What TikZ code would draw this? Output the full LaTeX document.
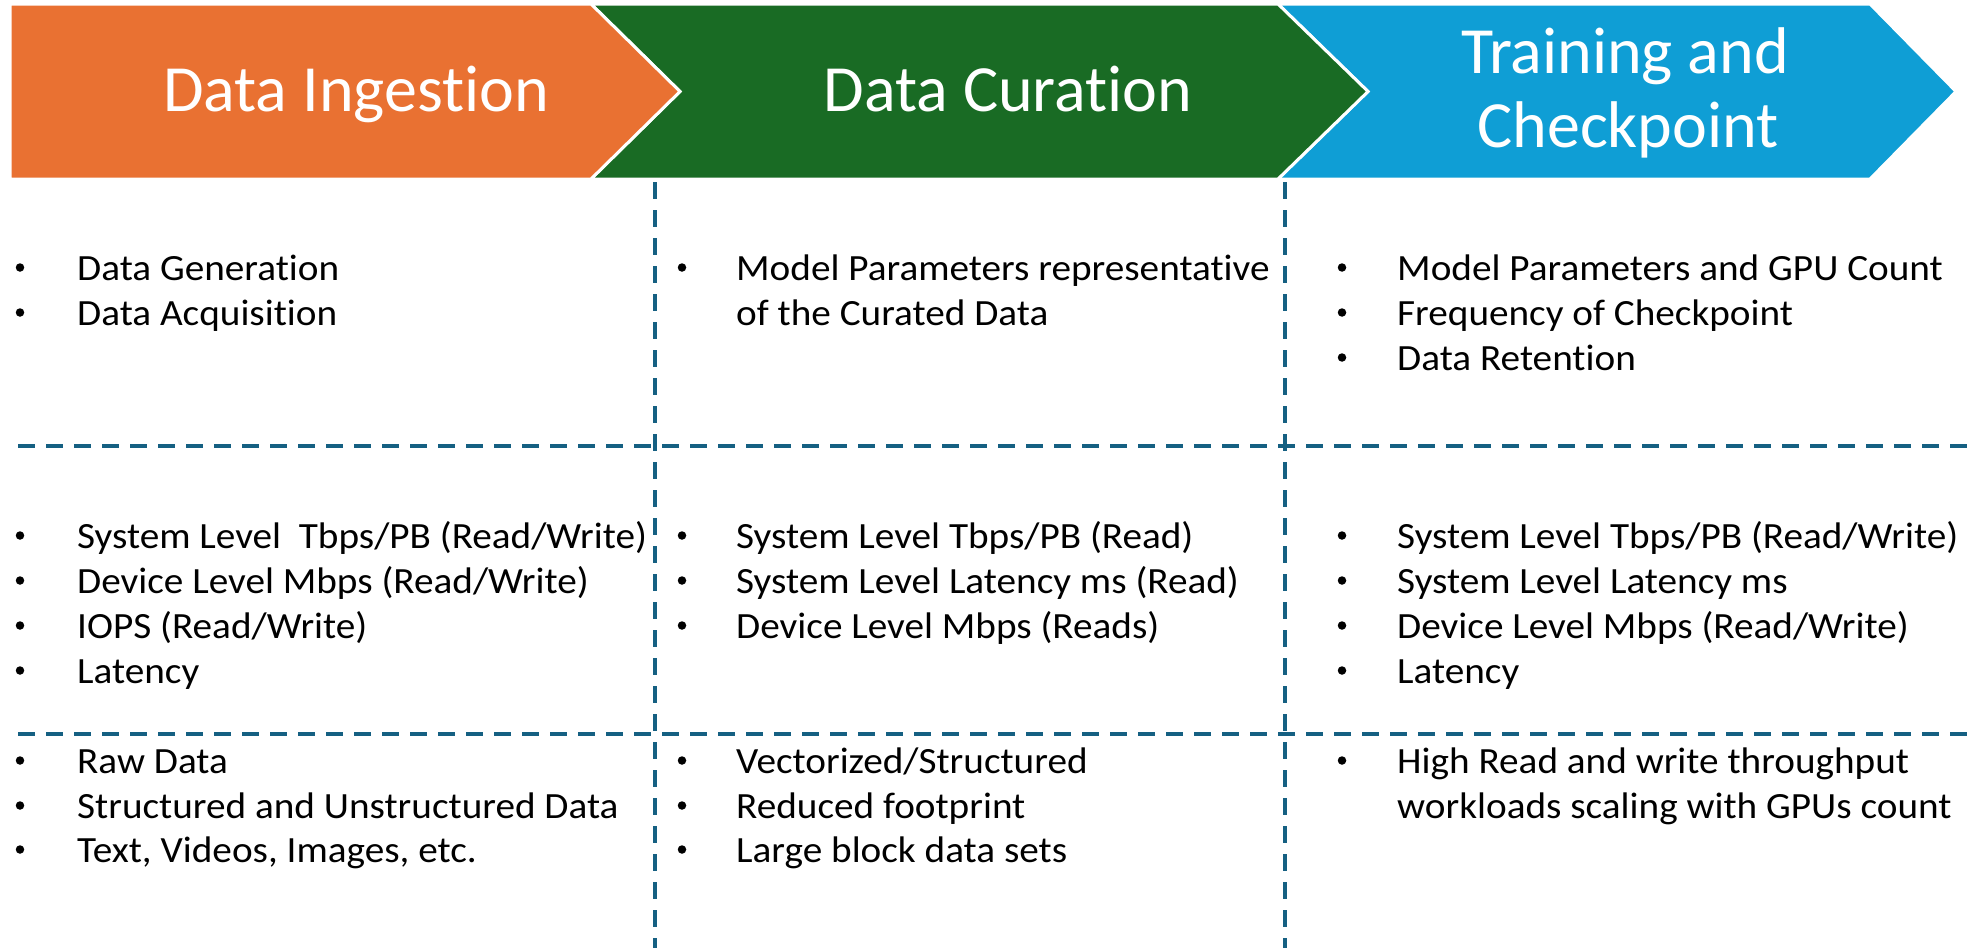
\documentclass[tikz,border=0pt]{standalone}
\usepackage{fontspec}
\setmainfont{Carlito}[Ligatures=NoCommon, FakeStretch=1.06]
\newfontfamily\headfam{Carlito}[Ligatures=NoCommon]
\definecolor{ingest}{HTML}{E97132}
\definecolor{curate}{HTML}{196B24}
\definecolor{train}{HTML}{0F9ED5}
\definecolor{gridblue}{HTML}{156082}
\newcommand\bodyfont{\fontsize{37}{45}\selectfont}
\newcommand\headfont{\headfam\fontsize{66}{78}\selectfont}
% one bullet line: name, bullet x, text x, baseline y, text
\newcommand\entry[5]{%
  \node[bul] (#1-dot) at (#2,#4-12.5) {};
  \node[txt] (#1) at (#3,#4) {#5};}
% continuation line without bullet
\newcommand\contline[4]{\node[txt] (#1) at (#2,#3) {#4};}

\begin{document}
\begin{tikzpicture}[x=1pt,y=-1pt,
  chevron/.style={draw=white, line width=3pt, line join=miter},
  headtxt/.style={text=white, font=\headfont, anchor=base, inner sep=0pt},
  bul/.style={circle, fill=black, inner sep=0pt, minimum size=8.5pt},
  txt/.style={font=\bodyfont, anchor=base west, inner sep=0pt},
  gridline/.style={draw=gridblue, line width=3.5pt, dash pattern=on 17pt off 11pt}]
\useasboundingbox (0,0) rectangle (1972,948);
\fill[white] (0,0) rectangle (1972,948);

% process chevrons
\path[chevron, fill=train]  (1278,4) -- (1870,4) -- (1956,91.5) -- (1870,179) -- (1278,179) -- (1368,91.5) -- cycle;
\path[chevron, fill=curate] (591,4) -- (1278,4) -- (1368,91.5) -- (1278,179) -- (591,179) -- (680,91.5) -- cycle;
\path[chevron, fill=ingest] (10,4) -- (591,4) -- (680,91.5) -- (591,179) -- (10,179) -- cycle;

\node[headtxt] (hIngest) at (356,111) {Data Ingestion};
\node[headtxt] (hCurate) at (1008,111) {Data Curation};
\node[headtxt] (hTrain1) at (1625,73) {Training and};
\node[headtxt] (hTrain2) at (1628,147) {Checkpoint};

% dashed grid
\draw[gridline] (655,182) -- (655,948);
\draw[gridline] (1285,182) -- (1285,948);
\draw[gridline] (18,446) -- (1972,446);
\draw[gridline] (18,734) -- (1972,734);

% column 1: data ingestion
\entry{a1}{20}{77}{280}{Data Generation}
\entry{a2}{20}{77}{325}{Data Acquisition}
\entry{b1}{20}{77}{548}{System Level\ \ Tbps/PB (Read/Write)}
\entry{b2}{20}{77}{593}{Device Level Mbps (Read/Write)}
\entry{b3}{20}{77}{638}{IOPS (Read/Write)}
\entry{b4}{20}{77}{683}{Latency}
\entry{c1}{20}{77}{773}{Raw Data}
\entry{c2}{20}{77}{818}{Structured and Unstructured Data}
\entry{c3}{20}{77}{862}{Text, Videos, Images, etc.}

% column 2: data curation
\entry{d1}{682}{736}{280}{Model Parameters representative}
\contline{d2}{736}{325}{of the Curated Data}
\entry{e1}{682}{736}{548}{System Level Tbps/PB (Read)}
\entry{e2}{682}{736}{593}{System Level Latency ms (Read)}
\entry{e3}{682}{736}{638}{Device Level Mbps (Reads)}
\entry{f1}{682}{736}{773}{Vectorized/Structured}
\entry{f2}{682}{736}{818}{Reduced footprint}
\entry{f3}{682}{736}{862}{Large block data sets}

% column 3: training and checkpoint
\entry{g1}{1342}{1397}{280}{Model Parameters and GPU Count}
\entry{g2}{1342}{1397}{325}{Frequency of Checkpoint}
\entry{g3}{1342}{1397}{370}{Data Retention}
\entry{h1}{1342}{1397}{548}{System Level Tbps/PB (Read/Write)}
\entry{h2}{1342}{1397}{593}{System Level Latency ms}
\entry{h3}{1342}{1397}{638}{Device Level Mbps (Read/Write)}
\entry{h4}{1342}{1397}{683}{Latency}
\entry{i1}{1342}{1397}{773}{High Read and write throughput}
\contline{i2}{1397}{818}{workloads scaling with GPUs count}
\end{tikzpicture}
\end{document}
